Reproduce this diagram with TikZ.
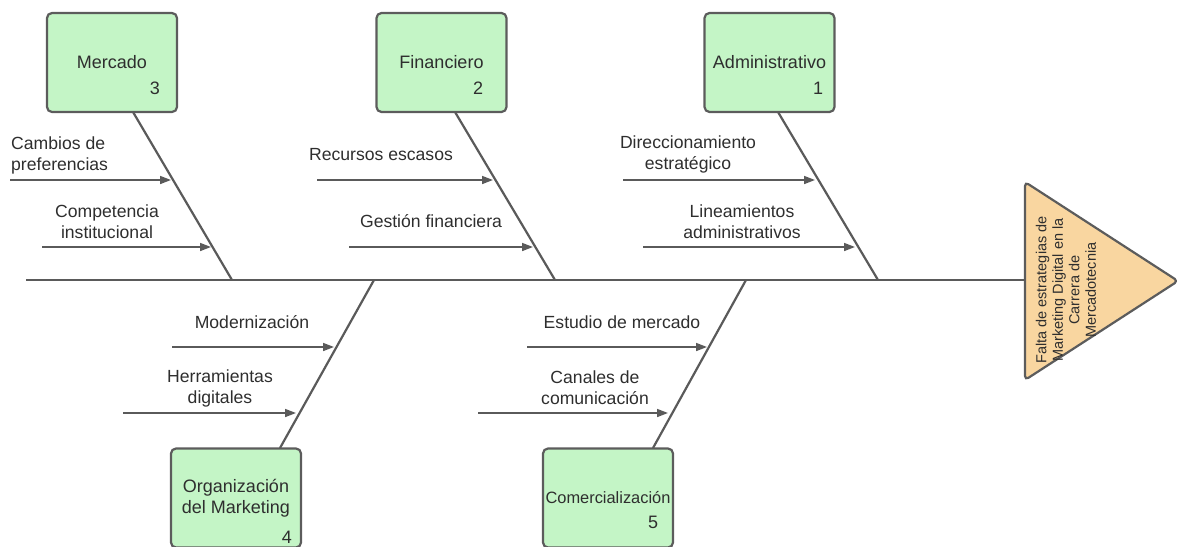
\documentclass[tikz,border=0pt]{standalone}
\usepackage{fontspec}
\setmainfont{Liberation Sans}
\usetikzlibrary{arrows.meta}
\definecolor{boxfill}{HTML}{C4F5C6}
\definecolor{boxline}{HTML}{5C5C5C}
\definecolor{trifill}{HTML}{F9D6A0}
\definecolor{txt}{HTML}{2E2E2E}
\definecolor{ln}{HTML}{5A5A5A}
\begin{document}
\begin{tikzpicture}[x=1pt,y=-1pt,
  catbox/.style={draw=boxline, line width=2.2pt, fill=boxfill, rounded corners=5pt,
    minimum width=130pt, minimum height=99pt, inner sep=0pt, text=txt,
    font=\fontsize{18}{21.5}\selectfont, align=center},
  num/.style={text=txt, font=\fontsize{18}{21}\selectfont, inner sep=0pt},
  lbl/.style={text=txt, font=\fontsize{17.6}{21}\selectfont, align=center, inner sep=0pt},
  spine/.style={draw=ln, line width=2.8pt},
  bone/.style={draw=ln, line width=2.2pt},
  arr/.style={draw=ln, line width=1.6pt, -{Triangle[length=11pt,width=8pt]}},
  tri/.style={draw=boxline, line width=2.2pt, fill=trifill, rounded corners=4pt}
]
\useasboundingbox (0,0) rectangle (1177,546);

% head triangle
\draw[tri] (1025,182) -- (1178,281) -- (1025,380) -- cycle;
\coordinate (head) at (1025,280);
\node[text=txt, font=\fontsize{14.5}{16.5}\selectfont, align=center, rotate=90, inner sep=0pt]
  (headtext) at (1066,290) {Falta de estrategias de\\Marketing Digital en la\\Carrera de\\Mercadotecnia};

% spine
\coordinate (tail) at (26,280);
\draw[spine] (tail) -- (head);

% category boxes
\node[catbox] (mercado) at (112,62.5) {Mercado};
\node[catbox] (financiero) at (441.5,62.5) {Financiero};
\node[catbox] (admin) at (769.5,62.5) {Administrativo};
\node[catbox] (organiz) at (236,498) {Organización\\del Marketing};
\node[catbox, font=\fontsize{16.4}{20}\selectfont] (comerc) at (608,498) {\raisebox{-3pt}{Comercialización}};

\node[num] (n3) at (155,88) {3};
\node[num] (n2) at (478,88) {2};
\node[num] (n1) at (818,88) {1};
\node[num] (n4) at (287,537) {4};
\node[num] (n5) at (653,522) {5};

% bones
\coordinate (mt) at (133,112);   \coordinate (mb) at (232,280);
\coordinate (ft) at (455,112);   \coordinate (fb) at (555,280);
\coordinate (at) at (778,112);   \coordinate (ab) at (878,280);
\coordinate (ot) at (280,448);   \coordinate (ob) at (374,280);
\coordinate (ct) at (653,448);   \coordinate (cb) at (746,280);
\draw[bone] (mt) -- (mb);
\draw[bone] (ft) -- (fb);
\draw[bone] (at) -- (ab);
\draw[bone] (ot) -- (ob);
\draw[bone] (ct) -- (cb);

% cause arrows
\coordinate (s1) at (10,180);  \coordinate (e1) at (171,180);
\coordinate (s2) at (42,247);  \coordinate (e2) at (211,247);
\coordinate (s3) at (317,180); \coordinate (e3) at (493,180);
\coordinate (s4) at (349,247); \coordinate (e4) at (533,247);
\coordinate (s5) at (623,180); \coordinate (e5) at (815,180);
\coordinate (s6) at (643,247); \coordinate (e6) at (855,247);
\coordinate (s7) at (172,347); \coordinate (e7) at (334,347);
\coordinate (s8) at (123,413); \coordinate (e8) at (296,413);
\coordinate (s9) at (527,347); \coordinate (e9) at (707,347);
\coordinate (s10) at (478,413); \coordinate (e10) at (668,413);
\foreach \i in {1,...,10} { \draw[arr] (s\i) -- (e\i); }

% cause labels
\node[lbl, anchor=west, align=left] (l1) at (11,155) {Cambios de\\preferencias};
\node[lbl] (l2) at (107,222) {Competencia\\institucional};
\node[lbl] (l3) at (381,155) {Recursos escasos};
\node[lbl] (l4) at (431,221) {Gestión financiera};
\node[lbl] (l5) at (688,154) {Direccionamiento\\estratégico};
\node[lbl] (l6) at (742,222) {Lineamientos\\administrativos};
\node[lbl] (l7) at (252,322) {Modernización};
\node[lbl] (l8) at (220,388) {Herramientas\\digitales};
\node[lbl] (l9) at (622,322) {Estudio de mercado};
\node[lbl] (l10) at (595,388) {Canales de\\comunicación};
\end{tikzpicture}
\end{document}
